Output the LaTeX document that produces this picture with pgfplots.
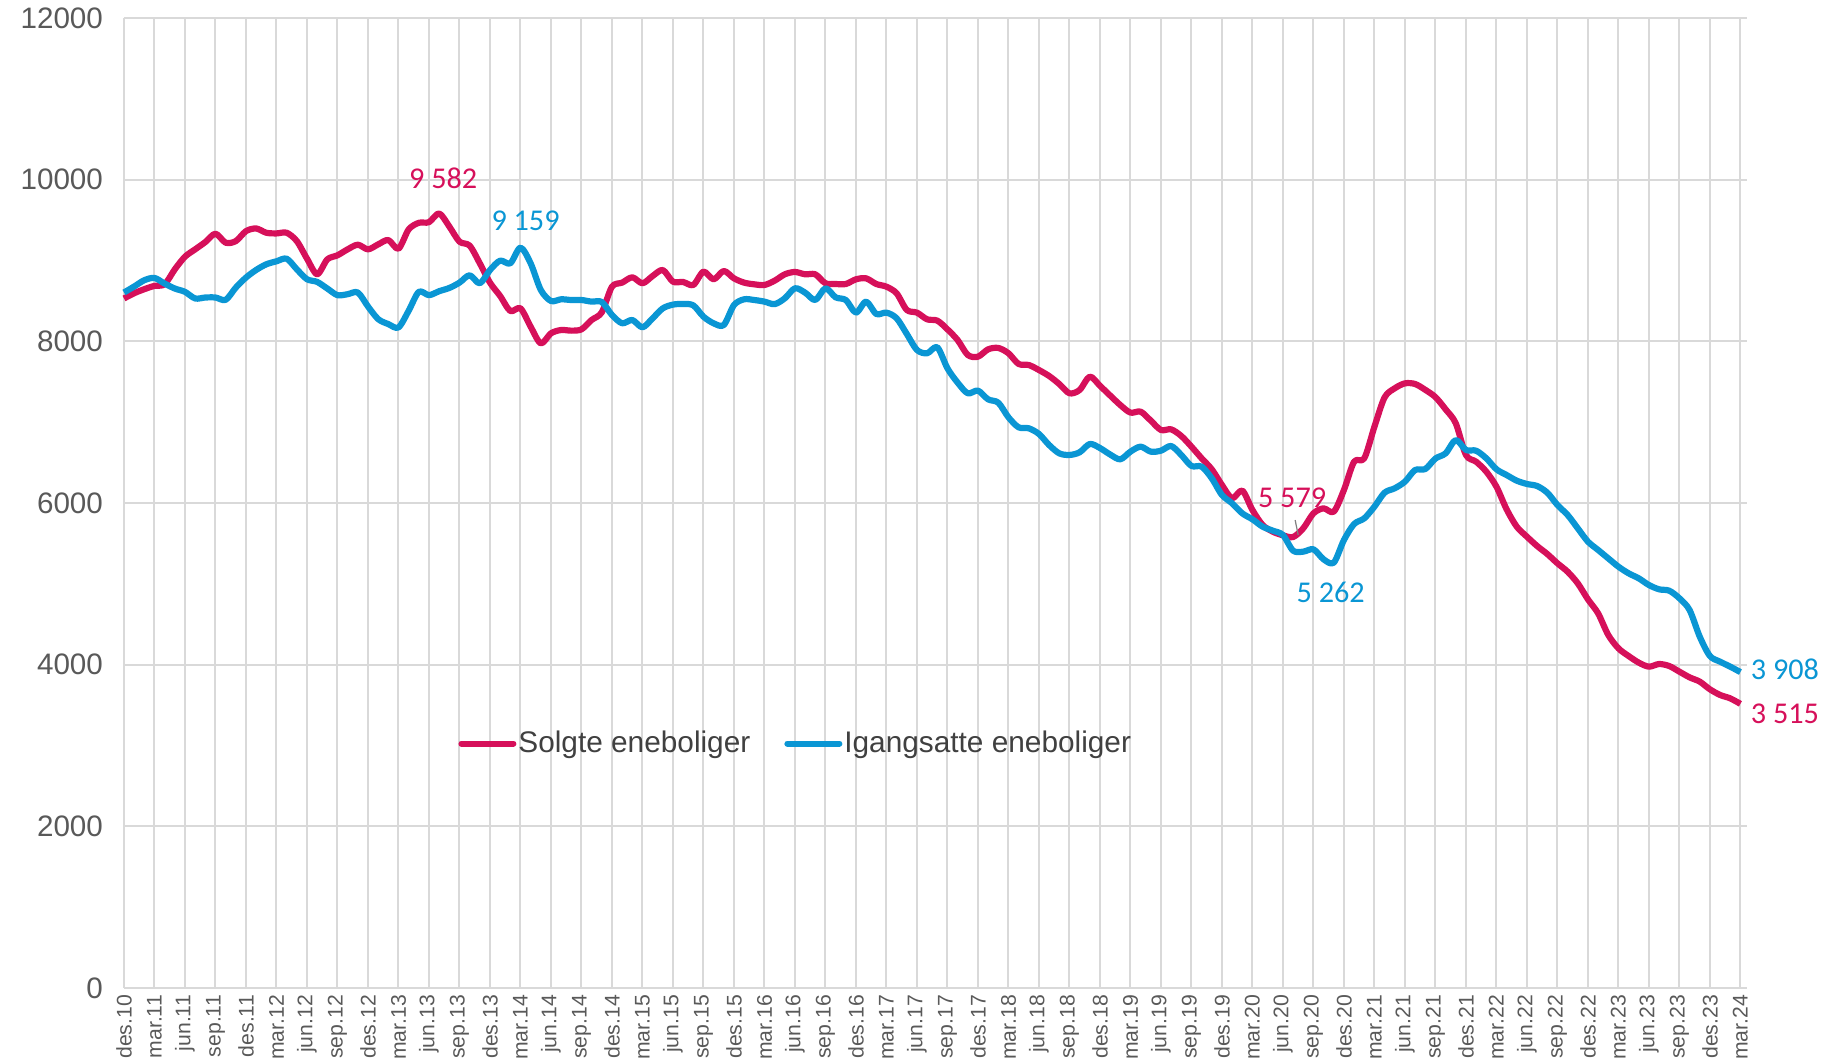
\documentclass[border=0pt]{standalone}
\usepackage{pgfplots}
\usepackage{pgfplotstable}
\pgfplotsset{compat=1.18}
\usepackage{fontspec}
\setmainfont{Liberation Sans}
\newfontfamily\calibri{Carlito}
\definecolor{solgte}{RGB}{214,16,90}
\definecolor{igang}{RGB}{10,150,212}
\definecolor{gridc}{RGB}{217,217,217}
\definecolor{tickc}{RGB}{89,89,89}
\definecolor{legc}{RGB}{64,64,64}
\pgfplotstableread{
i S I
0 8530 8604
1 8595 8678
2 8645 8756
3 8686 8784
4 8706 8714
5 8891 8653
6 9047 8612
7 9138 8530
8 9228 8542
9 9331 8542
10 9220 8513
11 9240 8665
12 9363 8789
13 9396 8883
14 9343 8953
15 9335 8990
16 9343 9022
17 9240 8891
18 9023 8768
19 8830 8735
20 9014 8653
21 9064 8571
22 9138 8583
23 9195 8604
24 9138 8431
25 9199 8275
26 9253 8213
27 9146 8172
28 9384 8378
29 9466 8612
30 9474 8571
31 9582 8620
32 9420 8660
33 9233 8726
34 9184 8817
35 8965 8718
36 8726 8882
37 8561 8998
38 8375 8965
39 8408 9159
40 8181 8965
41 7975 8635
42 8099 8499
43 8140 8520
44 8132 8511
45 8148 8511
46 8264 8491
47 8359 8487
48 8676 8326
49 8726 8223
50 8792 8264
51 8718 8173
52 8808 8285
53 8882 8408
54 8738 8454
55 8734 8462
56 8697 8445
57 8862 8305
58 8767 8223
59 8870 8202
60 8779 8449
61 8726 8520
62 8705 8511
63 8697 8491
64 8750 8460
65 8829 8532
66 8858 8656
67 8829 8602
68 8829 8511
69 8718 8656
70 8709 8544
71 8709 8511
72 8767 8355
73 8779 8491
74 8709 8338
75 8676 8355
76 8594 8285
77 8388 8091
78 8355 7893
79 8272 7852
80 8256 7926
81 8148 7666
82 8016 7489
83 7831 7357
84 7810 7390
85 7901 7282
86 7918 7241
87 7852 7060
88 7720 6936
89 7707 6924
90 7645 6854
91 7571 6717
92 7472 6614
93 7357 6594
94 7398 6627
95 7563 6730
96 7450 6680
97 7330 6600
98 7212 6540
99 7118 6635
100 7130 6697
101 7019 6635
102 6903 6647
103 6911 6705
104 6829 6594
105 6697 6458
106 6553 6450
107 6417 6305
108 6223 6099
109 6058 5996
110 6153 5872
111 5913 5798
112 5728 5707
113 5645 5658
114 5600 5604
115 5579 5410
116 5687 5398
117 5872 5427
118 5934 5303
119 5893 5262
120 6161 5542
121 6511 5740
122 6553 5810
123 6944 5955
124 7307 6128
125 7419 6182
126 7480 6264
127 7472 6408
128 7400 6420
129 7310 6550
130 7159 6614
131 6986 6779
132 6594 6656
133 6511 6647
134 6388 6553
135 6202 6417
136 5922 6346
137 5707 6276
138 5583 6235
139 5468 6210
140 5369 6128
141 5254 5975
142 5150 5852
143 5006 5687
144 4808 5522
145 4635 5419
146 4367 5315
147 4202 5212
148 4107 5130
149 4025 5068
150 3975 4985
151 4008 4932
152 3983 4915
153 3913 4821
154 3843 4676
155 3790 4346
156 3695 4107
157 3625 4037
158 3583 3975
159 3515 3908
}\datatable
\begin{document}
\begin{tikzpicture}
\begin{axis}[
  scale only axis,
  width=811.25pt, height=485pt,
  at={(0,0)}, anchor=south west,
  xmin=0, xmax=159.6, ymin=0, ymax=12000,
  axis line style={draw=none},
  clip=false,
  grid=major,
  major grid style={draw=gridc, line width=1pt},
  major tick length=0pt,
  scaled y ticks=false,
  xtick={0,3,...,159},
  xticklabels={des.10,mar.11,jun.11,sep.11,des.11,mar.12,jun.12,sep.12,des.12,mar.13,jun.13,sep.13,des.13,mar.14,jun.14,sep.14,des.14,mar.15,jun.15,sep.15,des.15,mar.16,jun.16,sep.16,des.16,mar.17,jun.17,sep.17,des.17,mar.18,jun.18,sep.18,des.18,mar.19,jun.19,sep.19,des.19,mar.20,jun.20,sep.20,des.20,mar.21,jun.21,sep.21,des.21,mar.22,jun.22,sep.22,des.22,mar.23,jun.23,sep.23,des.23,mar.24},
  xticklabel style={rotate=90, anchor=east, font=\fontsize{10.6}{12}\selectfont, text=tickc},
  ytick={0,2000,...,12000},
  yticklabel style={font=\fontsize{14.8}{17}\selectfont, text=tickc, xshift=-7pt},
  /pgf/number format/.cd, 1000 sep={}, assume math mode=true,
  /pgfplots/.cd,
  legend columns=2,
  legend style={draw=none, fill=none, at={(0.414,0.252)}, anchor=center,
    font=\fontsize{14.9}{17}\selectfont, text=legc,
    nodes={inner xsep=1pt},
    /tikz/every even column/.append style={column sep=16pt}},
  legend image code/.code={\draw[#1, line width=3pt, line cap=round] (0pt,0pt) -- (26pt,0pt);},
]
\addplot[solgte, line width=3.1pt, smooth, line join=round] table[x=i, y=S] {\datatable};
\addlegendentry{Solgte eneboliger}
\addplot[igang, line width=3.1pt, smooth, line join=round] table[x=i, y=I] {\datatable};
\addlegendentry{Igangsatte eneboliger}
\draw[gray, line width=0.6pt] (axis cs:115.2,5789) -- (axis cs:115.5,5604);
\node[text=solgte, font=\calibri\fontsize{15.1}{17}\selectfont] at (axis cs:31.4,10015) {9 582};
\node[text=igang, font=\calibri\fontsize{15.1}{17}\selectfont] at (axis cs:39.5,9495) {9 159};
\node[text=solgte, font=\calibri\fontsize{15.1}{17}\selectfont] at (axis cs:114.9,6062) {5 579};
\node[text=igang, font=\calibri\fontsize{15.1}{17}\selectfont] at (axis cs:118.7,4892) {5 262};
\node[text=igang, font=\calibri\fontsize{15.1}{17}\selectfont, anchor=west, inner xsep=0pt] at (axis cs:160.0,3940) {3 908};
\node[text=solgte, font=\calibri\fontsize{15.1}{17}\selectfont, anchor=west, inner xsep=0pt] at (axis cs:160.0,3390) {3 515};
\end{axis}
\pgfresetboundingbox
\path[use as bounding box] (-62pt,-37.5pt) rectangle (852.5pt,494pt);
\end{tikzpicture}
\end{document}
